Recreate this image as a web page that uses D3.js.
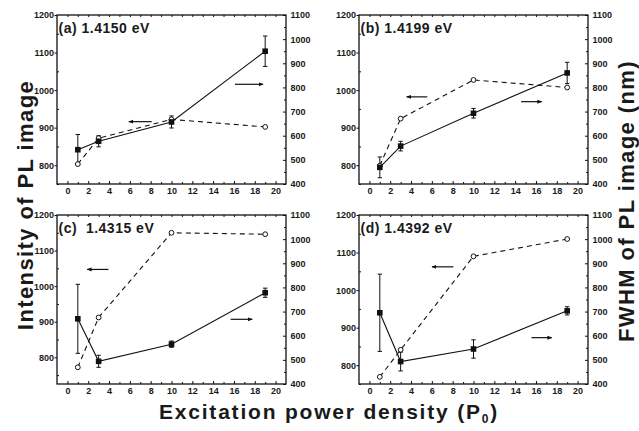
<!DOCTYPE html>
<html>
<head>
<meta charset="utf-8">
<script src="https://cdn.jsdelivr.net/npm/d3@7"></script>
<style>
  body { margin: 0; background: #fff; }
  text { font-family: "Liberation Sans", Arial, sans-serif; font-weight: bold; fill: #1a1a1a; }
</style>
</head>
<body>
<div class="App"></div>
<script>
// excitation power density (P0)
const xs = [1, 3, 10, 19]

const labels = ['(a) 1.4150 eV', '(b) 1.4199 eV', '(c)  1.4315 eV', '(d) 1.4392 eV']

// intensity of PL image (left axis, open circles, dashed)
const intA = [803, 872, 922, 902]
const intB = [799, 924, 1027, 1007]
const intC = [772, 912, 1150, 1146]
const intD = [769, 841, 1090, 1136]

// FWHM (nm) (right axis, filled squares, solid) and error
const fwhmA = [542, 577, 657, 950]
const errA = [63, 23, 25, 63]
const fwhmB = [469, 557, 693, 860]
const errB = [43, 20, 20, 44]
const fwhmC = [670, 494, 565, 778]
const errC = [143, 25, 13, 19]
const fwhmD = [695, 493, 545, 703]
const errD = [160, 39, 38, 17]

const leftMin = [750, 750, 725, 750]
const leftTicks = [800, 900, 1000, 1100, 1200]
const rightTicks = [400, 500, 600, 700, 800, 900, 1000, 1100]
const xTicks = [0, 2, 4, 6, 8, 10, 12, 14, 16, 18, 20]

// arrows: [from x, to x, value] ; left arrow uses left axis, right arrow uses right axis
const arrowsLeft = [[8.1, 5.9, 916], [5.56, 3.57, 982], [3.94, 1.89, 1047], [8.07, 6.01, 1062]]
const arrowsRight = [[16.1, 18.8, 813], [14.57, 16.56, 741], [15.68, 17.76, 668], [15.57, 17.53, 592]]

const ints = [intA, intB, intC, intD]
const fwhms = [fwhmA, fwhmB, fwhmC, fwhmD]
const errs = [errA, errB, errC, errD]

const W = 639, H = 431
const pw = 229, ph = 169
const origins = [[57, 15], [359, 15], [57, 215], [359, 215]]

const svg = d3.select('.App').append('svg').attr('width', W).attr('height', H)

const defs = svg.append('defs')
defs.append('marker')
    .attr('id', 'head')
    .attr('viewBox', '0 0 10 10')
    .attr('refX', 9).attr('refY', 5)
    .attr('markerWidth', 5).attr('markerHeight', 5)
    .attr('markerUnits', 'userSpaceOnUse')
    .attr('orient', 'auto')
    .append('path').attr('d', 'M0,1 L10,5 L0,9 Z').attr('fill', '#111')

const fmt = d3.format('d')

origins.forEach((o, k) => {
  const g = svg.append('g').attr('transform', 'translate(' + o[0] + ',' + o[1] + ')')

  const x = d3.scaleLinear().domain([-1, 21]).range([0, pw])
  const yL = d3.scaleLinear().domain([leftMin[k], 1200]).range([ph, 0])
  const yR = d3.scaleLinear().domain([400, 1100]).range([ph, 0])

  // minor ticks
  const minorL = d3.range(750, 1200, 50).filter(v => v % 100 !== 0)
  g.append('g').call(d3.axisLeft(yL).tickValues(minorL).tickSize(-2).tickFormat(''))
  g.append('g').attr('transform', 'translate(' + pw + ',0)')
   .call(d3.axisRight(yR).tickValues(d3.range(450, 1100, 100)).tickSize(-2).tickFormat(''))
  g.append('g').attr('transform', 'translate(0,' + ph + ')')
   .call(d3.axisBottom(x).tickValues(d3.range(1, 21, 2)).tickSize(-2).tickFormat(''))
  g.append('g')
   .call(d3.axisTop(x).tickValues(d3.range(0, 21, 1)).tickSize(-2).tickFormat(''))

  // major axes
  g.append('g').attr('transform', 'translate(0,' + ph + ')')
   .call(d3.axisBottom(x).tickValues(xTicks).tickFormat(fmt).tickSize(-3).tickPadding(4))
  g.append('g')
   .call(d3.axisLeft(yL).tickValues(leftTicks).tickFormat(fmt).tickSize(2.5).tickPadding(0.5))
  g.append('g').attr('transform', 'translate(' + pw + ',0)')
   .call(d3.axisRight(yR).tickValues(rightTicks).tickFormat(fmt).tickSize(-3).tickPadding(4.5))

  g.selectAll('.domain').remove()
  g.selectAll('.tick line').attr('stroke', '#111').attr('stroke-width', 1)
  g.selectAll('.tick text').style('font-size', '9px')
   .style('font-family', '"Liberation Sans", Arial, sans-serif')
   .style('font-weight', 'bold').attr('fill', '#1a1a1a')

  // frame
  g.append('rect').attr('width', pw).attr('height', ph)
   .attr('fill', 'none').attr('stroke', '#111').attr('stroke-width', 1.3)

  // dashed intensity line
  const pts = xs.map((v, i) => [v, ints[k][i]])
  g.append('path')
   .attr('d', d3.line().x(d => x(d[0])).y(d => yL(d[1]))(pts))
   .attr('fill', 'none').attr('stroke', '#111').attr('stroke-width', 1.1)
   .attr('stroke-dasharray', '5,4')

  // solid FWHM line
  const fp = xs.map((v, i) => [v, fwhms[k][i], errs[k][i]])
  g.append('path')
   .attr('d', d3.line().x(d => x(d[0])).y(d => yR(d[1]))(fp))
   .attr('fill', 'none').attr('stroke', '#111').attr('stroke-width', 1.1)

  // error bars
  const eb = g.selectAll('.eb').data(fp).enter().append('g').attr('class', 'eb')
  eb.append('line')
    .attr('x1', d => x(d[0])).attr('x2', d => x(d[0]))
    .attr('y1', d => yR(d[1] - d[2])).attr('y2', d => yR(d[1] + d[2]))
    .attr('stroke', '#111').attr('stroke-width', 1)
  eb.append('line')
    .attr('x1', d => x(d[0]) - 2.2).attr('x2', d => x(d[0]) + 2.2)
    .attr('y1', d => yR(d[1] - d[2])).attr('y2', d => yR(d[1] - d[2]))
    .attr('stroke', '#111').attr('stroke-width', 1)
  eb.append('line')
    .attr('x1', d => x(d[0]) - 2.2).attr('x2', d => x(d[0]) + 2.2)
    .attr('y1', d => yR(d[1] + d[2])).attr('y2', d => yR(d[1] + d[2]))
    .attr('stroke', '#111').attr('stroke-width', 1)

  // open circles
  g.selectAll('.circ').data(pts).enter().append('circle')
   .attr('cx', d => x(d[0])).attr('cy', d => yL(d[1])).attr('r', 2.4)
   .attr('fill', '#fff').attr('stroke', '#111').attr('stroke-width', 1)

  // filled squares
  g.selectAll('.sq').data(fp).enter().append('rect')
   .attr('x', d => x(d[0]) - 2.8).attr('y', d => yR(d[1]) - 2.8)
   .attr('width', 5.6).attr('height', 5.6).attr('fill', '#111')

  // arrows
  const la = arrowsLeft[k], ra = arrowsRight[k]
  g.append('line').attr('x1', x(la[0])).attr('x2', x(la[1]))
   .attr('y1', yL(la[2])).attr('y2', yL(la[2]))
   .attr('stroke', '#111').attr('stroke-width', 1.2).attr('marker-end', 'url(#head)')
  g.append('line').attr('x1', x(ra[0])).attr('x2', x(ra[1]))
   .attr('y1', yR(ra[2])).attr('y2', yR(ra[2]))
   .attr('stroke', '#111').attr('stroke-width', 1.2).attr('marker-end', 'url(#head)')

  // panel label
  g.append('text').attr('x', 1.5).attr('y', 18)
   .style('font-size', '14px').style('letter-spacing', '0.5px').style('white-space', 'pre')
   .text(labels[k])
})

// axis titles
svg.append('text')
   .attr('transform', 'translate(33,205) rotate(-90)')
   .attr('text-anchor', 'middle')
   .style('font-size', '22px').style('letter-spacing', '1.4px')
   .text('Intensity of PL image')

svg.append('text')
   .attr('transform', 'translate(634,201) rotate(-90)')
   .attr('text-anchor', 'middle')
   .style('font-size', '22px').style('letter-spacing', '1.4px')
   .text('FWHM of PL image (nm)')

const bt = svg.append('text')
   .attr('x', 329).attr('y', 419)
   .attr('text-anchor', 'middle')
   .style('font-size', '21px').style('letter-spacing', '1.8px')
bt.append('tspan').text('Excitation power density (P')
bt.append('tspan').attr('dy', 4).style('font-size', '12px').text('0')
bt.append('tspan').attr('dy', -4).text(')')
</script>
</body>
</html>
